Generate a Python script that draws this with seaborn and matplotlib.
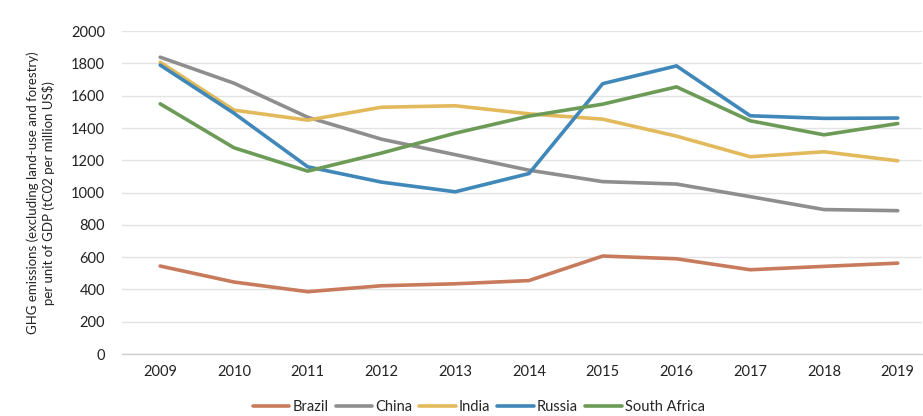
import numpy as np
import pandas as pd
import matplotlib
matplotlib.use("Agg")
import matplotlib.pyplot as plt
import seaborn as sns

years = list(range(2009, 2020))
brazil = [545, 446, 386, 423, 435, 455, 607, 590, 522, 543, 563]
china = [1839, 1678, 1467, 1331, 1235, 1139, 1068, 1053, 975, 895, 888]
india = [1808, 1511, 1449, 1529, 1538, 1488, 1455, 1350, 1222, 1253, 1197]
russia = [1790, 1492, 1160, 1065, 1005, 1118, 1675, 1785, 1476, 1460, 1462]
south_africa = [1550, 1278, 1133, 1245, 1368, 1474, 1548, 1655, 1445, 1358, 1428]

countries = ["Brazil", "China", "India", "Russia", "South Africa"]
series = [brazil, china, india, russia, south_africa]
colors = ["#c87b5c", "#8e8e8e", "#e2ba5c", "#4088b9", "#6c9b57"]
yticks = [0, 200, 400, 600, 800, 1000, 1200, 1400, 1600, 1800, 2000]

df = pd.DataFrame({
    "Year": np.tile(years, len(countries)),
    "Value": np.concatenate(series),
    "Country": np.repeat(countries, len(years)),
})

sns.set_theme(style="white")
plt.rcParams["font.family"] = ["Lato", "DejaVu Sans"]

fig = plt.figure(figsize=(9.23, 4.16), dpi=100)
ax = fig.add_axes([0.132, 0.149, 0.867, 0.776])

sns.lineplot(data=df, x="Year", y="Value", hue="Country", hue_order=countries,
             palette=dict(zip(countries, colors)), linewidth=2.6, ax=ax,
             legend=True)

ax.set_xlim(2008.48, 2019.33)
ax.set_ylim(0, 2000)
ax.set_yticks(yticks)
ax.set_xticks(years)
ax.set_xticklabels([str(y) for y in years])
ax.grid(axis="y", color="#e3e3e3", linewidth=1)
ax.set_axisbelow(True)
for s in ["top", "right", "left"]:
    ax.spines[s].set_visible(False)
ax.spines["bottom"].set_color("#d0d0d0")
ax.spines["bottom"].set_linewidth(1)
ax.tick_params(axis="both", length=0, labelsize=10.5, colors="#222222", pad=8)
ax.tick_params(axis="y", pad=12)
ax.set_xlabel("")
ax.set_ylabel("GHG emissions (excluding land-use and forestry)\nper unit of GDP (tC02 per million US$)",
              fontsize=9.5, color="#222222", labelpad=12)

handles, labels = ax.get_legend_handles_labels()
ax.legend(handles, labels, loc="center", bbox_to_anchor=(0.446, -0.163),
          ncol=5, frameon=False, fontsize=10.5, handlelength=2.5,
          handletextpad=0.2, columnspacing=0.5, borderaxespad=0, borderpad=0.1)

fig.savefig("out.png", dpi=100)
